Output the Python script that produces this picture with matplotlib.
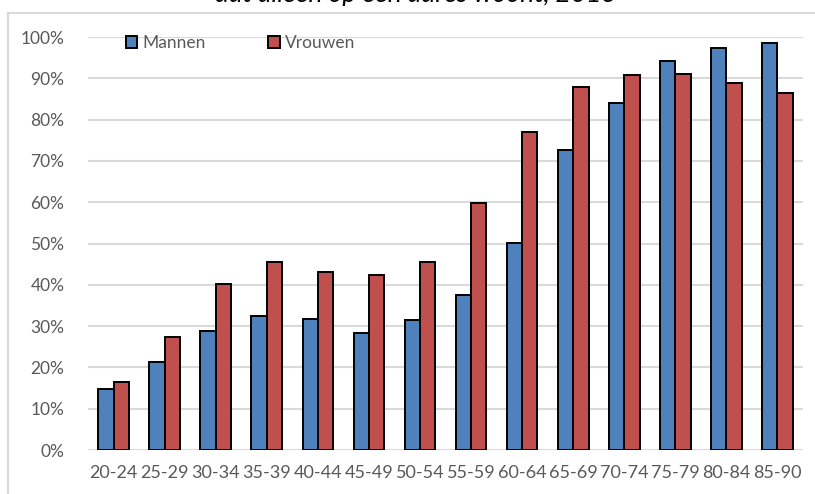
import matplotlib
matplotlib.use("Agg")
import matplotlib.pyplot as plt
import numpy as np
from matplotlib.ticker import PercentFormatter
from matplotlib.lines import Line2D

categories = ["20-24", "25-29", "30-34", "35-39", "40-44", "45-49", "50-54",
              "55-59", "60-64", "65-69", "70-74", "75-79", "80-84", "85-90"]
mannen = [14.8, 21.3, 28.8, 32.4, 31.7, 28.3, 31.5, 37.5, 50.1, 72.6, 84.0, 94.2, 97.3, 98.5]
vrouwen = [16.5, 27.4, 40.2, 45.5, 43.1, 42.4, 45.5, 59.8, 77.0, 87.9, 90.8, 91.0, 88.9, 86.4]
series_names = ["Mannen", "Vrouwen"]
title_tail = "dat alleen op een adres woont, 2013"

plt.rcParams['font.family'] = ['Lato', 'DejaVu Sans']

W, H = 815, 494
fig = plt.figure(figsize=(W / 100, H / 100), dpi=100)
ax = fig.add_axes([88 / W, 1 - 450 / H, (803 - 88) / W, (450 - 37) / H])

x = np.arange(len(categories))
bw = 0.3
blue = "#4F81BD"
red = "#C0504D"
ax.bar(x - bw / 2, mannen, bw, color=blue, edgecolor="black", linewidth=1.4, zorder=3,
       label=series_names[0])
ax.bar(x + bw / 2, vrouwen, bw, color=red, edgecolor="black", linewidth=1.4, zorder=3,
       label=series_names[1])

ax.set_xlim(-0.5, len(categories) - 0.5)
ax.set_ylim(0, 100)
ax.set_yticks(np.arange(0, 101, 10))
ax.yaxis.set_major_formatter(PercentFormatter(decimals=0))
ax.set_xticks(x)
ax.set_xticklabels(categories)
ax.grid(axis="y", color="#D9D9D9", linewidth=1.5, zorder=0)
ax.set_axisbelow(True)
for s in ax.spines.values():
    s.set_visible(False)
ax.tick_params(axis="y", length=0, colors="#595959", labelsize=12.5, pad=17)
ax.tick_params(axis="x", length=0, colors="#595959", labelsize=13, pad=11)

handles = [plt.Rectangle((0, 0), 1, 1, facecolor=blue, edgecolor="black", linewidth=1.4),
           plt.Rectangle((0, 0), 1, 1, facecolor=red, edgecolor="black", linewidth=1.4)]
leg = ax.legend(handles, series_names, ncol=2, frameon=False, loc="upper left",
                bbox_to_anchor=(126 / W, 1 - 35 / H), bbox_transform=fig.transFigure,
                handlelength=0.65, handleheight=0.65, handletextpad=0.3, columnspacing=3.6,
                fontsize=12.5, borderaxespad=0, borderpad=0)
for t in leg.get_texts():
    t.set_color("#595959")

# chart border (left and top visible)
fig.add_artist(Line2D([8 / W, 8 / W], [0, 1 - 13 / H], transform=fig.transFigure,
                      color="#D9D9D9", linewidth=1.5))
fig.add_artist(Line2D([8 / W, 1], [1 - 13 / H, 1 - 13 / H], transform=fig.transFigure,
                      color="#D9D9D9", linewidth=1.5))

# clipped title tail
fig.text(416 / W, 1 - 2.5 / H, title_tail, ha="center", va="baseline", fontsize=19,
         style="italic", color="black")

fig.savefig("out.png", dpi=100)
